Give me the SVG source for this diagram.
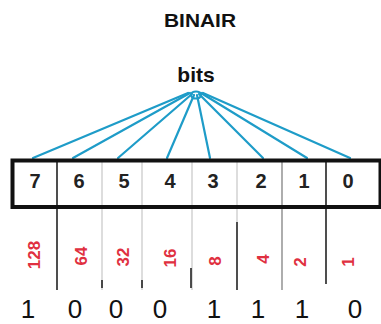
<svg xmlns="http://www.w3.org/2000/svg" width="381" height="324" viewBox="0 0 381 324">
<style>
.t{font-family:"Liberation Sans",Arial,sans-serif;fill:#111}
.b{font-weight:bold}
.d{font-family:"Liberation Sans",Arial,sans-serif;font-weight:bold;font-size:20px;fill:#222;text-anchor:middle}
.r{font-family:"Liberation Sans",Arial,sans-serif;font-weight:bold;font-size:17px;fill:#e03040;text-anchor:middle}
.n{font-family:"Liberation Sans",Arial,sans-serif;font-size:26px;fill:#111;text-anchor:middle}
.fan{stroke:#1e9cc8;stroke-width:2.2;fill:none;stroke-linecap:round}
.lt{stroke:#bbb;stroke-width:1}
.dk{stroke:#222;stroke-width:1.6}
.md{stroke:#777;stroke-width:1.2}
</style>
<rect width="381" height="324" fill="#fff"/>
<g id="title"><text class="t b" x="200" y="27" font-size="19" text-anchor="middle" textLength="72" lengthAdjust="spacingAndGlyphs">BINAIR</text></g>
<g id="bits"><text class="t b" x="196" y="82" font-size="21" text-anchor="middle">bits</text></g>
<g id="connectors">
<ellipse class="fan" cx="196" cy="95" rx="5" ry="3.5"/>
<line class="fan" x1="188" y1="93" x2="33" y2="158"/>
<line class="fan" x1="190" y1="93" x2="73" y2="158"/>
<line class="fan" x1="192" y1="94" x2="118" y2="158"/>
<line class="fan" x1="194" y1="95" x2="167" y2="158"/>
<line class="fan" x1="197" y1="95" x2="210" y2="158"/>
<line class="fan" x1="199" y1="94" x2="263" y2="158"/>
<line class="fan" x1="201" y1="93" x2="307" y2="158"/>
<line class="fan" x1="203" y1="93" x2="350" y2="158"/>
</g>
<g id="register">
<line class="dk" x1="57" y1="160" x2="57" y2="290"/>
<line class="lt" x1="102" y1="160" x2="102" y2="290"/>
<line class="lt" x1="142" y1="160" x2="142" y2="290"/>
<line class="lt" x1="192" y1="160" x2="192" y2="290"/>
<line class="lt" x1="237" y1="160" x2="237" y2="222"/>
<line class="md" x1="282" y1="160" x2="282" y2="290"/>
<line class="dk" x1="326" y1="160" x2="326" y2="284"/>
<line class="dk" x1="102" y1="280" x2="102" y2="288"/>
<line class="dk" x1="142" y1="280" x2="142" y2="288"/>
<line class="dk" x1="191" y1="268" x2="191" y2="288"/>
<line class="dk" x1="237" y1="222" x2="237" y2="290"/>
<rect x="12.5" y="160.5" width="368" height="46.5" fill="none" stroke="#111" stroke-width="4"/>
<text class="d" x="35" y="188">7</text>
<text class="d" x="79" y="188">6</text>
<text class="d" x="124" y="188">5</text>
<text class="d" x="170" y="188">4</text>
<text class="d" x="213" y="188">3</text>
<text class="d" x="261" y="188">2</text>
<text class="d" x="304" y="188">1</text>
<text class="d" x="348" y="188">0</text>
</g>
<g id="weights">
<text class="r" transform="translate(40,255) rotate(-90)">128</text>
<text class="r" transform="translate(87,256) rotate(-90)">64</text>
<text class="r" transform="translate(129,257) rotate(-90)">32</text>
<text class="r" transform="translate(176,258) rotate(-90)">16</text>
<text class="r" transform="translate(221,261) rotate(-90)">8</text>
<text class="r" transform="translate(269,259) rotate(-90)">4</text>
<text class="r" transform="translate(306,262) rotate(-90)">2</text>
<text class="r" transform="translate(354,262) rotate(-90)">1</text>
</g>
<g id="values">
<text class="n" x="28" y="318">1</text>
<text class="n" x="75" y="318">0</text>
<text class="n" x="116" y="318">0</text>
<text class="n" x="160" y="318">0</text>
<text class="n" x="214" y="318">1</text>
<text class="n" x="258" y="318">1</text>
<text class="n" x="302" y="318">1</text>
<text class="n" x="355" y="318">0</text>
</g>
</svg>
